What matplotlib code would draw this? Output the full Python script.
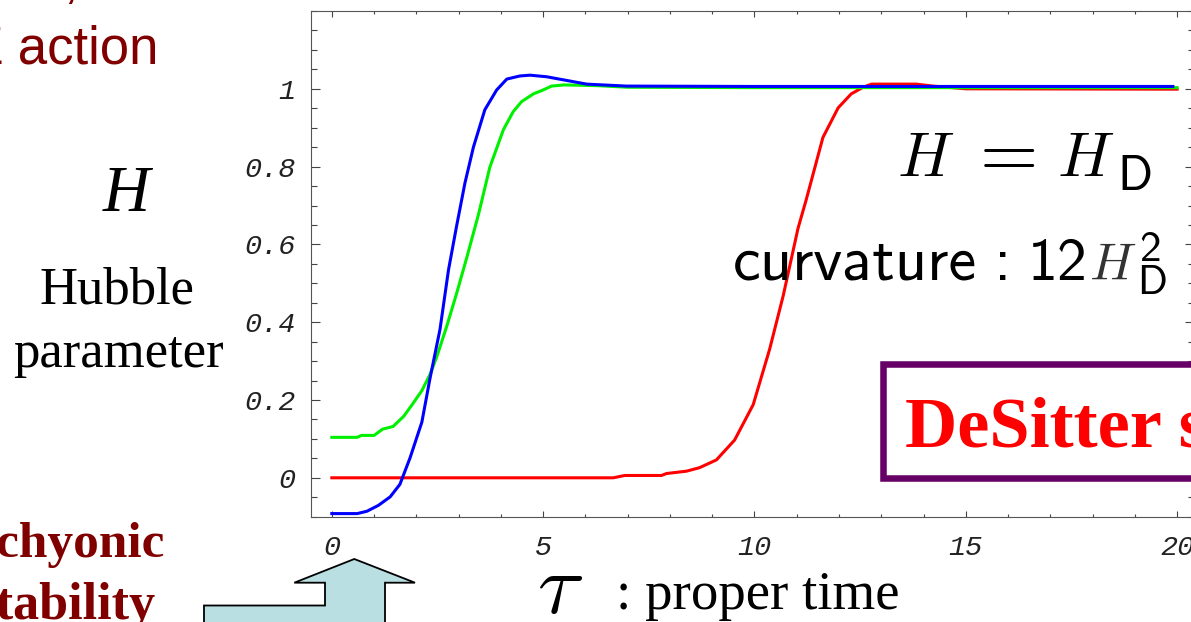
import matplotlib
matplotlib.use("Agg")
import matplotlib.pyplot as plt
from matplotlib.patches import Polygon, Rectangle
from matplotlib.ticker import MultipleLocator, FixedLocator

plt.rcParams['mathtext.fontset'] = 'cm'

# data (tau, H)
red_t = [0, 6.66, 6.93, 7.8, 7.92, 8.39, 8.7, 9.1, 9.53, 9.97, 10.36, 10.68, 11.03, 11.23,
         11.62, 11.98, 12.29, 12.57, 12.77, 13.83, 14.22, 15.0, 20]
red_H = [0, 0, 0.006, 0.006, 0.011, 0.017, 0.026, 0.046, 0.097, 0.188, 0.331, 0.468, 0.641, 0.717,
         0.875, 0.951, 0.987, 1.004, 1.012, 1.012, 1.007, 1.0, 0.999]

green_t = [0, 0.6, 0.7, 1.0, 1.2, 1.45, 1.7, 1.9, 2.13, 2.32, 2.48, 2.72, 2.95, 3.19, 3.47,
           3.74, 4.06, 4.29, 4.49, 4.77, 5.0, 5.2, 5.5, 6.3, 7.0, 10, 15, 20]
green_H = [0.104, 0.104, 0.109, 0.109, 0.125, 0.132, 0.158, 0.188, 0.224, 0.265, 0.31, 0.39, 0.473,
           0.565, 0.677, 0.799, 0.895, 0.941, 0.967, 0.987, 0.997, 1.007, 1.01, 1.008, 1.004,
           1.003, 1.003, 1.003]

blue_t = [0, 0.6, 0.83, 1.1, 1.38, 1.61, 1.85, 2.13, 2.32, 2.56, 2.76, 2.95, 3.15, 3.35, 3.62,
          3.9, 4.14, 4.45, 4.69, 5.08, 5.48, 6.03, 6.97, 10, 15, 19.9]
blue_H = [-0.092, -0.092, -0.086, -0.071, -0.049, -0.017, 0.051, 0.143, 0.254, 0.382, 0.534,
          0.646, 0.758, 0.85, 0.946, 0.997, 1.025, 1.033, 1.035, 1.031, 1.023, 1.012, 1.007,
          1.006, 1.006, 1.006]

x_major = [0, 5, 10, 15, 20]
x_labels = ['0', '5', '10', '15', '20']
y_major = [0, 0.2, 0.4, 0.6, 0.8, 1]
y_labels = ['0', '0.2', '0.4', '0.6', '0.8', '1']

W, H = 1191, 622
fig = plt.figure(figsize=(W / 100, H / 100), dpi=100)


def px(x, y):
    # pixel position (from top-left) -> figure fraction
    return x / W, 1 - y / H


ax = fig.add_axes([310.7 / W, 1 - 516.7 / H, (1194 - 310.7) / W, (516.7 - 11) / H])
ax.plot(red_t, red_H, color='#ff0000', lw=2.2, solid_joinstyle='round')
ax.plot(green_t, green_H, color='#00f000', lw=2.2, solid_joinstyle='round')
ax.plot(blue_t, blue_H, color='#0000ff', lw=2.2, solid_joinstyle='round')

ax.set_xlim(-0.5, 20.4)
ax.set_ylim(-0.1, 1.2)

ax.xaxis.set_major_locator(FixedLocator(x_major))
ax.xaxis.set_minor_locator(MultipleLocator(1))
ax.yaxis.set_major_locator(FixedLocator(y_major))
ax.yaxis.set_minor_locator(MultipleLocator(0.05))
ax.set_xticklabels(x_labels)
ax.set_yticklabels(y_labels)

for lab in ax.get_xticklabels() + ax.get_yticklabels():
    lab.set_fontfamily('Liberation Mono')
    lab.set_fontstyle('italic')
    lab.set_fontsize(20.5)
    lab.set_color('#222222')

ax.tick_params(axis='both', which='both', direction='in', top=True, right=True,
               color='#444444', width=0.8)
ax.tick_params(axis='x', which='major', length=4, pad=13)
ax.tick_params(axis='x', which='minor', length=2.5)
ax.tick_params(axis='y', which='major', length=6.5, pad=11)
ax.tick_params(axis='y', which='minor', length=4)
for s in ax.spines.values():
    s.set_color('#555555')
    s.set_linewidth(0.8)

# slide annotations around the plot
dark_red = '#800000'
fig.text(*px(158, 63), 'Z action', family='Liberation Sans', size=38, color=dark_red,
         ha='right', va='baseline')
fig.text(*px(63, -3), ',', family='Liberation Sans', size=38, color=dark_red,
         ha='left', va='baseline')
fig.text(*px(126, 211), 'H', family='Liberation Serif', style='italic', size=47,
         ha='center', va='baseline')
fig.text(*px(117, 304), 'Hubble', family='Liberation Serif', size=38,
         ha='center', va='baseline')
fig.text(*px(118, 367), 'parameter', family='Liberation Serif', size=38,
         ha='center', va='baseline')
fig.text(*px(165, 557), 'Tachyonic', family='Liberation Serif', weight='bold', size=37,
         color=dark_red, ha='right', va='baseline')
fig.text(*px(156, 619), 'instability', family='Liberation Serif', weight='bold', size=37.5,
         color=dark_red, ha='right', va='baseline')

fig.text(*px(560, 613), r'$\tau$', size=62, ha='center', va='baseline')
fig.text(*px(616, 609), ': proper time', family='Liberation Serif', size=39.5,
         ha='left', va='baseline')

# H = H_D
fig.text(*px(897, 176), r'$H$', size=45, ha='left', va='baseline')
fig.text(*px(966, 175), r'$=$', size=54, ha='left', va='baseline')
fig.text(*px(1057, 176), r'$H$', size=45, ha='left', va='baseline')
fig.text(*px(1117, 190), 'D', family='cmss10', size=35, ha='left', va='baseline')

# curvature : 12 H_D^2
fig.text(*px(733, 280), 'curvature', family='cmss10', size=45, ha='left', va='baseline')
fig.text(*px(994, 280), ':', family='cmss10', size=45, ha='left', va='baseline')
fig.text(*px(1028, 280), '12', family='cmss10', size=43, ha='left', va='baseline')
fig.text(*px(1089, 280), r'$H$', size=37, color='#333333', ha='left', va='baseline')
fig.text(*px(1139, 261), '2', family='cmss10', size=31, ha='left', va='baseline')
fig.text(*px(1137, 294), 'D', family='cmss10', size=30, ha='left', va='baseline')

# arrow pointing up at tau = 0
arrow = [(204, 640), (204, 605.5), (325, 605.5), (325, 582.7), (294.3, 582.7), (354.3, 559),
         (415, 582.7), (385, 582.7), (385, 640)]
fig.patches.append(Polygon([px(x, y) for x, y in arrow], closed=True, transform=fig.transFigure,
                           facecolor='#b9dfe2', edgecolor='black', lw=1.3, clip_on=False))

# DeSitter box
bx0, by0 = px(882.5, 477.5)
bx1, by1 = px(1300, 363.5)
fig.patches.append(Rectangle((bx0, by0), bx1 - bx0, by1 - by0, transform=fig.transFigure,
                             facecolor='white', edgecolor='#660066', lw=4.7, clip_on=False))
fig.text(*px(905, 447), 'DeSitter space', family='Liberation Serif', weight='bold', size=52,
         color='#ff0000', ha='left', va='baseline')

fig.savefig('out.png', dpi=100)
